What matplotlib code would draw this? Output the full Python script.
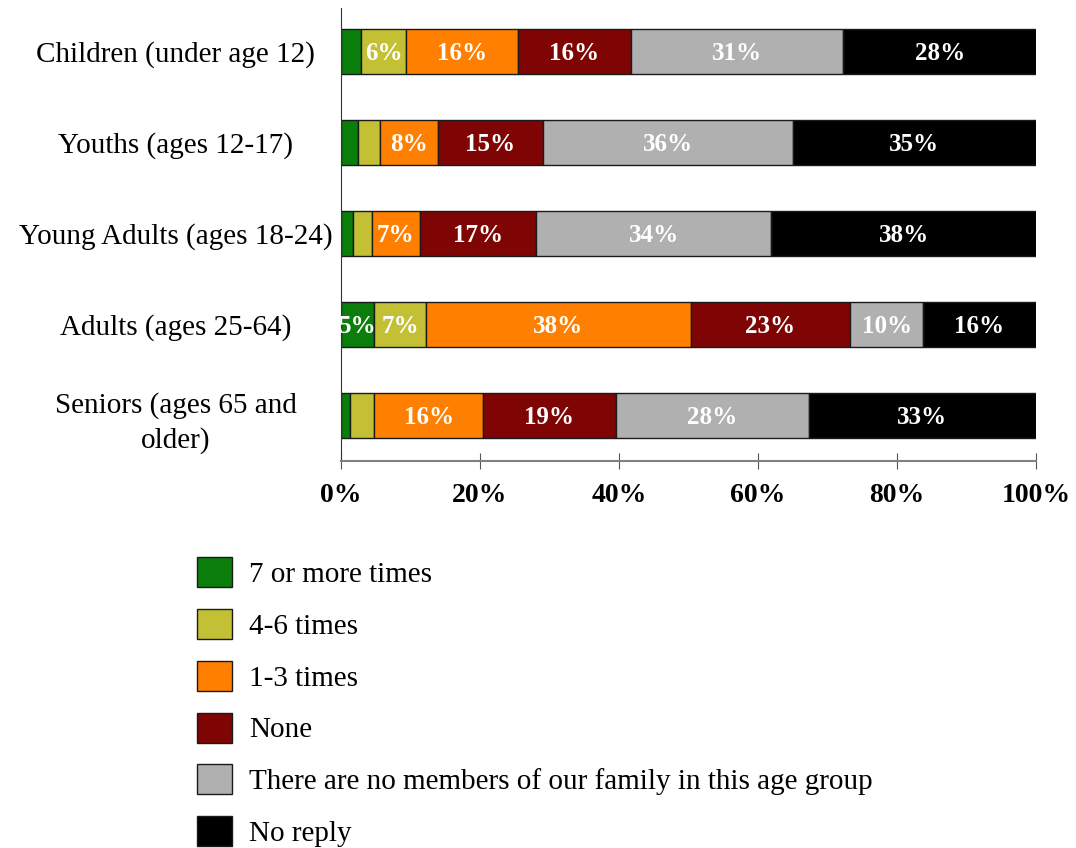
import numpy as np
import matplotlib
matplotlib.use('Agg')
from matplotlib import pyplot as plt

plt.rcParams['font.family'] = ['Liberation Serif', 'DejaVu Serif']

# データ
groups = ['Children (under age 12)', 'Youths (ages 12-17)', 'Young Adults (ages 18-24)',
          'Adults (ages 25-64)', 'Seniors (ages 65 and\nolder)']
series = ['7 or more times', '4-6 times', '1-3 times', 'None',
          'There are no members of our family in this age group', 'No reply']
seven_plus = [2.9, 2.4, 1.7, 4.8, 1.3]
four_six = [6.5, 3.2, 2.7, 7.4, 3.5]
one_three = [16.0, 8.3, 7.0, 38.1, 15.7]
none = [16.3, 15.1, 16.7, 23.0, 19.0]
no_members = [30.6, 36.0, 33.8, 10.4, 27.8]
no_reply = [27.7, 35.0, 38.1, 16.3, 32.7]

colors = ['#0a7d0a', '#c3c035', '#ff8000', '#7f0505', '#b0b0b0', '#000000']

values = [seven_plus, four_six, one_three, none, no_members, no_reply]

fig = plt.figure(figsize=(10.76, 8.48), dpi=100)
ax = fig.add_axes([341/1076, 1-461/848, 695/1076, 453/848])

y = np.arange(len(groups))
left = np.zeros(len(groups))
for name, vals, c in zip(series, values, colors):
    vals = np.array(vals)
    ax.barh(y, vals, left=left, height=0.5, color=c, edgecolor='#1a1a1a',
            linewidth=1, label=name)
    for yi, (l, v) in enumerate(zip(left, vals)):
        if v >= 4.5:
            ax.text(l + v/2, yi + 0.02, '%d%%' % round(v), ha='center', va='center',
                    color='white', fontsize=18, fontweight='bold')
    left += vals

ax.set_xlim(0, 100)
ax.set_ylim(len(groups) - 0.5, -0.48)
ax.set_xticks([0, 20, 40, 60, 80, 100])
ax.set_xticklabels(['0%', '20%', '40%', '60%', '80%', '100%'], fontsize=20, fontweight='bold')
ax.set_yticks(y)
ax.set_yticklabels(groups, fontsize=21, ha='center', multialignment='center',
                   linespacing=1.4)
ax.tick_params(axis='y', length=0, pad=119)
ax.tick_params(axis='x', direction='inout', length=12, color='#555555', pad=10)
ax.spines['top'].set_visible(False)
ax.spines['right'].set_visible(False)
ax.spines['bottom'].set_color('#808080')
ax.spines['bottom'].set_linewidth(1.5)
ax.spines['left'].set_color('#333333')

fig.legend(loc='upper left', bbox_to_anchor=(171/1076, 1-531/848), frameon=False,
           fontsize=21, handlelength=1.2, handleheight=1.2, labelspacing=0.72,
           handletextpad=0.58)

plt.savefig('out.png', dpi=100)
